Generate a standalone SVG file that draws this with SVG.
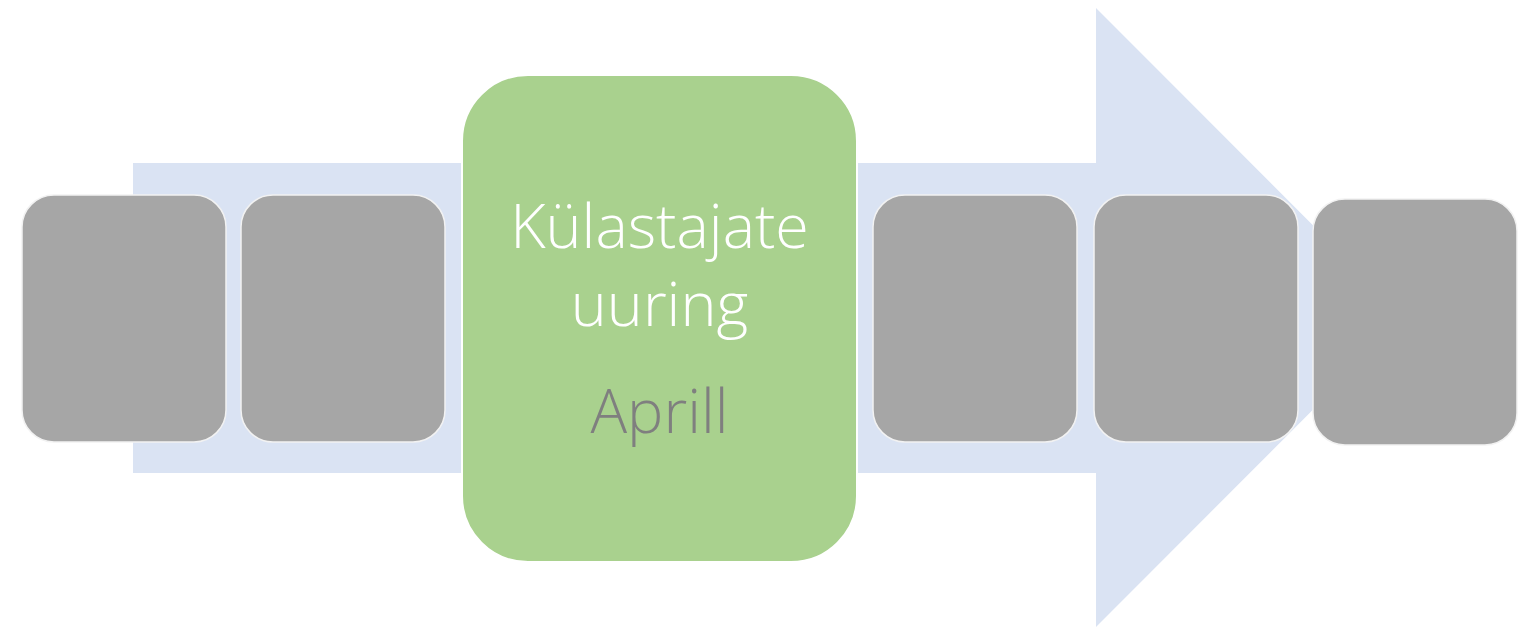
<svg xmlns="http://www.w3.org/2000/svg" width="1519" height="629" viewBox="0 0 1519 629">
<style>
.gray{fill:#A6A6A6;stroke:#F2F2F2;stroke-width:1.5}
.t{font-family:"Open Sans","Noto Sans",sans-serif;font-weight:300;font-size:61px;text-anchor:middle}
</style>
<rect width="1519" height="629" fill="#FFFFFF"/>
<g id="arrow">
<polygon points="133,163 1096,163 1096,8 1405,317.5 1096,627 1096,473 133,473" fill="#DAE3F3"/>
</g>
<g id="connectors"></g>
<g id="node1"><rect class="gray" x="22" y="195" width="204" height="247" rx="32"/></g>
<g id="node2"><rect class="gray" x="241" y="195" width="204" height="247" rx="32"/></g>
<g id="node3">
<rect x="462" y="75" width="395" height="487" rx="66" fill="#A9D18E" stroke="#FFFFFF" stroke-width="2"/>
<text class="t" x="659.5" y="248" fill="#FFFFFF">Külastajate</text>
<text class="t" x="659.5" y="326" fill="#FFFFFF">uuring</text>
<text class="t" x="659.5" y="433" fill="#7F7F7F">Aprill</text>
</g>
<g id="node4"><rect class="gray" x="873" y="195" width="204" height="247" rx="32"/></g>
<g id="node5"><rect class="gray" x="1094" y="195" width="204" height="247" rx="32"/></g>
<g id="node6"><rect class="gray" x="1313" y="199" width="204" height="246" rx="32"/></g>
</svg>
